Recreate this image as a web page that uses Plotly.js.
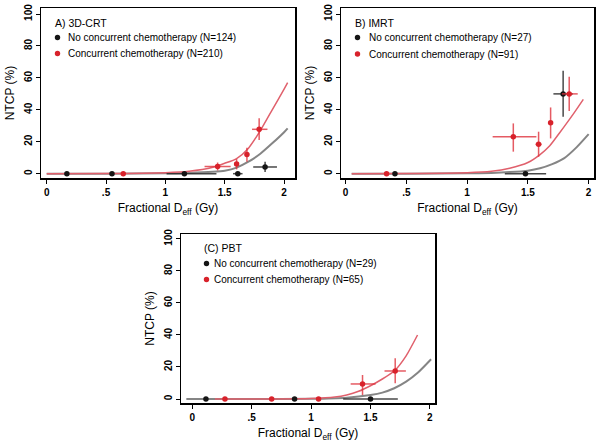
<!DOCTYPE html>
<html>
<head>
<meta charset="utf-8">
<script src="https://cdn.plot.ly/plotly-3.0.1.min.js"></script>
<style>html,body{margin:0;padding:0;background:#fff;}#chart{width:601px;height:446px;}</style>
</head>
<body>
<div id="chart"></div>
<script>
// ---------- Panel A: 3D-CRT ----------
var aNoX = [0.17, 0.55, 1.16, 1.61, 1.84];
var aNoY = [0, 0, 0, 0, 4.2];
var aNoXerrMinus = [0, 0, 0.15, 0.04, 0.10];
var aNoXerrPlus  = [0, 0, 0.27, 0.04, 0.10];
var aNoYerrMinus = [0, 0, 0, 0, 3.2];
var aNoYerrPlus  = [0, 0, 0, 0, 3.3];
var aChX = [0.645, 1.44, 1.60, 1.687, 1.79];
var aChY = [0, 4.5, 6.1, 12.1, 27.8];
var aChXerrMinus = [0, 0.11, 0.02, 0.01, 0.06];
var aChXerrPlus  = [0, 0.11, 0.02, 0.01, 0.07];
var aChYerrMinus = [0, 2.5, 3.4, 4.6, 6.7];
var aChYerrPlus  = [0, 2.5, 3.0, 4.2, 6.9];
var aFitX    = [0, 0.5, 1.0, 1.2, 1.4, 1.5, 1.6, 1.7, 1.8, 1.9, 2.0, 2.03];
var aFitNoY  = [0, 0, 0.2, 0.5, 1.2, 1.9, 3.8, 7.5, 12.5, 19, 26, 28.4];
var aFitChY  = [0, 0.05, 0.6, 1.5, 4, 6.5, 9.5, 16, 27, 40, 53, 57];

// ---------- Panel B: IMRT ----------
var bNoX = [0.406, 1.48, 1.79];
var bNoY = [0, 0, 50];
var bNoXerrMinus = [0, 0.17, 0.08];
var bNoXerrPlus  = [0, 0.17, 0.08];
var bNoYerrMinus = [0, 0, 14.3];
var bNoYerrPlus  = [0, 0, 14.5];
var bChX = [0.337, 1.38, 1.588, 1.687, 1.84];
var bChY = [0, 23.2, 18.4, 31.9, 50];
var bChXerrMinus = [0, 0.17, 0.025, 0, 0.06];
var bChXerrPlus  = [0, 0.19, 0.025, 0, 0.07];
var bChYerrMinus = [0, 9.4, 7.8, 9.8, 10.8];
var bChYerrPlus  = [0, 8.3, 7.9, 9.6, 10.8];
var bFitNoX = [0.05, 0.5, 1.0, 1.2, 1.35, 1.5, 1.6, 1.7, 1.8, 1.9, 2.0];
var bFitNoY = [0, 0, 0.2, 0.5, 1.0, 1.9, 3.4, 6.0, 9.8, 16.5, 24.8];
var bFitChX = [0.05, 0.5, 1.0, 1.2, 1.35, 1.5, 1.6, 1.68, 1.76, 1.87, 1.956];
var bFitChY = [0, 0.1, 0.6, 1.5, 3.4, 7, 12, 17.5, 25.5, 37, 46.6];

// ---------- Panel C: PBT ----------
var cNoX = [0.115, 0.861, 1.50];
var cNoY = [0, 0, 0];
var cNoXerrMinus = [0, 0, 0.23];
var cNoXerrPlus  = [0, 0, 0.23];
var cChX = [0.275, 0.668, 1.063, 1.433, 1.708];
var cChY = [0, 0, 0, 9.4, 17.5];
var cChXerrMinus = [0, 0, 0, 0.10, 0.09];
var cChXerrPlus  = [0, 0, 0, 0.11, 0.09];
var cChYerrMinus = [0, 0, 0, 6.9, 7.7];
var cChYerrPlus  = [0, 0, 0, 5.6, 7.9];
var cFitNoX = [-0.05, 0.5, 1.0, 1.3, 1.5, 1.6, 1.7, 1.8, 1.9, 2.01];
var cFitNoY = [0, 0, 0.1, 0.8, 2.5, 4, 6.7, 10.8, 16.5, 24.8];
var cFitChX = [0.19, 0.6, 1.0, 1.2, 1.3, 1.4, 1.5, 1.6, 1.7, 1.8, 1.896];
var cFitChY = [0, 0, 0.3, 1.2, 2.5, 4.8, 8.3, 12.5, 17.5, 27, 40];

// ---------- labels ----------
var panelTitles = ['A) 3D-CRT', 'B) IMRT', '(C) PBT'];
var noLabels = ['No concurrent chemotherapy (N=124)', 'No concurrent chemotherapy (N=27)', 'No concurrent chemotherapy (N=29)'];
var chLabels = ['Concurrent chemotherapy (N=210)', 'Concurrent chemotherapy (N=91)', 'Concurrent chemotherapy (N=65)'];
var xTickVals = [0, 0.5, 1, 1.5, 2];
var xTickText = ['0', '.5', '1', '1.5', '2'];
var yTickVals = [0, 20, 40, 60, 80, 100];
var yTickText = ['0', '20', '40', '60', '80', '100'];

var RED = '#d8222b', RED_ERR = 'rgba(222,50,60,0.8)', RED_LINE = '#e0606c';
var BLK = '#151515', BLK_ERR = 'rgba(40,40,40,0.85)', GRAY_LINE = '#858585';

function curve(x, y, color, w, xa, ya) {
  return {x: x, y: y, mode: 'lines', type: 'scatter', line: {color: color, width: w, shape: 'spline', smoothing: 0.6},
          xaxis: xa, yaxis: ya, showlegend: false, hoverinfo: 'skip'};
}
function pts(x, y, exm, exp, eym, eyp, color, ecolor, xa, ya, name) {
  var t = {x: x, y: y, mode: 'markers', type: 'scatter', name: name,
           marker: {color: color, size: 5.5}, xaxis: xa, yaxis: ya, showlegend: false,
           error_x: {type: 'data', symmetric: false, array: exp, arrayminus: exm, color: ecolor, thickness: 1.5, width: 0}};
  if (eym) t.error_y = {type: 'data', symmetric: false, array: eyp, arrayminus: eym, color: ecolor, thickness: 1.5, width: 0};
  return t;
}

var data = [
  curve(aFitX, aFitNoY, GRAY_LINE, 2, 'x', 'y'),
  curve(aFitX, aFitChY, RED_LINE, 1.5, 'x', 'y'),
  pts(aNoX, aNoY, aNoXerrMinus, aNoXerrPlus, aNoYerrMinus, aNoYerrPlus, BLK, BLK_ERR, 'x', 'y', noLabels[0]),
  pts(aChX, aChY, aChXerrMinus, aChXerrPlus, aChYerrMinus, aChYerrPlus, RED, RED_ERR, 'x', 'y', chLabels[0]),

  curve(bFitNoX, bFitNoY, GRAY_LINE, 2, 'x2', 'y2'),
  curve(bFitChX, bFitChY, RED_LINE, 1.5, 'x2', 'y2'),
  pts(bNoX, bNoY, bNoXerrMinus, bNoXerrPlus, bNoYerrMinus, bNoYerrPlus, BLK, BLK_ERR, 'x2', 'y2', noLabels[1]),
  pts(bChX, bChY, bChXerrMinus, bChXerrPlus, bChYerrMinus, bChYerrPlus, RED, RED_ERR, 'x2', 'y2', chLabels[1]),

  curve(cFitNoX, cFitNoY, GRAY_LINE, 2, 'x3', 'y3'),
  curve(cFitChX, cFitChY, RED_LINE, 1.5, 'x3', 'y3'),
  pts(cNoX, cNoY, cNoXerrMinus, cNoXerrPlus, null, null, BLK, BLK_ERR, 'x3', 'y3', noLabels[2]),
  pts(cChX, cChY, cChXerrMinus, cChXerrPlus, cChYerrMinus, cChYerrPlus, RED, RED_ERR, 'x3', 'y3', chLabels[2])
];

var W = 601, H = 446;
function xd(l, r) { return [l / W, r / W]; }
function yd(t, b) { return [1 - b / H, 1 - t / H]; }
var FONT = 'Liberation Sans, Arial, sans-serif';

function xaxis(dom, rng, anchor) {
  return {domain: dom, range: rng, anchor: anchor, tickvals: xTickVals, ticktext: xTickText,
          ticks: 'outside', ticklen: 4, tickwidth: 1, tickcolor: '#000',
          showline: true, mirror: true, linecolor: '#000', linewidth: 1.5, showgrid: false, zeroline: false,
          tickfont: {family: FONT, size: 10, color: '#000', weight: 'bold'},
          title: {text: 'Fractional D<sub>eff</sub> (Gy)', font: {family: FONT, size: 12, color: '#000'}, standoff: 7}};
}
function yaxis(dom, rng, anchor) {
  return {domain: dom, range: rng, anchor: anchor, tickvals: yTickVals, ticktext: yTickText, tickangle: -90,
          ticks: 'outside', ticklen: 4, tickwidth: 1, tickcolor: '#000',
          showline: true, mirror: true, linecolor: '#000', linewidth: 1.5, showgrid: false, zeroline: false,
          tickfont: {family: FONT, size: 10, color: '#000', weight: 'bold'},
          title: {text: 'NTCP (%)', font: {family: FONT, size: 12, color: '#000'}, standoff: 5}};
}

var ann = [], shapes = [];
function dot(cx, cy, color) {
  var r = 2.7;
  shapes.push({type: 'circle', xref: 'paper', yref: 'paper', x0: (cx - r) / W, x1: (cx + r) / W,
               y0: 1 - (cy + r) / H, y1: 1 - (cy - r) / H, fillcolor: color, line: {width: 0}});
}
function legendBlock(i, tx, ty, dx, dy1, dy2, txtx) {
  ann.push({xref: 'paper', yref: 'paper', x: tx / W, y: 1 - ty / H, xanchor: 'left', yanchor: 'middle', showarrow: false,
            text: panelTitles[i], font: {family: FONT, size: 10.5, color: '#000'}});
  dot(dx, dy1, BLK);
  ann.push({xref: 'paper', yref: 'paper', x: txtx / W, y: 1 - dy1 / H, xanchor: 'left', yanchor: 'middle', showarrow: false,
            text: noLabels[i], font: {family: FONT, size: 10, color: '#000'}});
  dot(dx, dy2, RED);
  ann.push({xref: 'paper', yref: 'paper', x: txtx / W, y: 1 - dy2 / H, xanchor: 'left', yanchor: 'middle', showarrow: false,
            text: chLabels[i], font: {family: FONT, size: 10, color: '#000'}});
}
legendBlock(0, 53, 23, 57.5, 37.5, 53.5, 66);
legendBlock(1, 353, 23, 357.5, 37.5, 54, 367);
legendBlock(2, 202, 247.5, 206.5, 263.5, 279.5, 212);

var layout = {
  width: W, height: H, margin: {l: 0, r: 0, t: 0, b: 0},
  paper_bgcolor: '#fff', plot_bgcolor: '#fff', showlegend: false,
  font: {family: FONT, color: '#000'},
  xaxis: xaxis(xd(41, 295), [-0.048, 2.092], 'y'),
  yaxis: yaxis(yd(8, 178), [-2.7, 103.8], 'x'),
  xaxis2: xaxis(xd(341, 594), [-0.038, 2.044], 'y2'),
  yaxis2: yaxis(yd(8, 178), [-2.7, 103.8], 'x2'),
  xaxis3: xaxis(xd(181, 435), [-0.095, 2.043], 'y3'),
  yaxis3: yaxis(yd(234, 403), [-2.5, 103.1], 'x3'),
  annotations: ann,
  shapes: shapes
};

Plotly.newPlot('chart', data, layout, {staticPlot: true, displayModeBar: false});
</script>
</body>
</html>
